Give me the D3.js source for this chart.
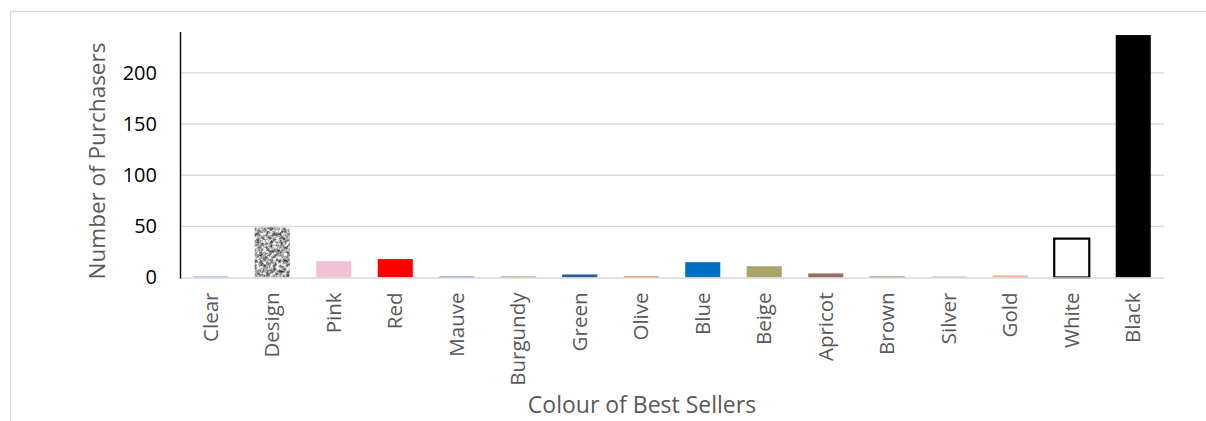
<!DOCTYPE html>
<html>
<head>
<meta charset="utf-8">
<script src="https://cdn.jsdelivr.net/npm/d3@7"></script>
<style>
  html, body { margin: 0; padding: 0; background: #fff; }
  svg { display: block; }
  text { font-family: "Open Sans", sans-serif; }
</style>
</head>
<body>
<svg id="chart" width="1206" height="421"></svg>
<script>
// Best-selling colours and how many purchasers chose each
const categories = ["Clear", "Design", "Pink", "Red", "Mauve", "Burgundy", "Green", "Olive",
  "Blue", "Beige", "Apricot", "Brown", "Silver", "Gold", "White", "Black"];
const purchasers = [1, 49, 16, 18, 1, 1, 3, 1, 15, 11, 4, 1, 1, 2, 38, 237];
const barColours = ["#6fa8dc", "url(#granite)", "#f2c1d6", "#ff0000", "#4a7bd0", "#70ad47", "#2a5f95", "#c55a11",
  "#0070c0", "#aca36a", "#9a6e5e", "#548235", "#9dc3e6", "#f4b183", "#ffffff", "#000000"];
const yTicks = [0, 50, 100, 150, 200];

const svg = d3.select("#chart");
const margin = { left: 180, right: 42, top: 32, bottom: 144 };
const W = 1206, H = 421;

// Granite texture for the "Design" bar
const defs = svg.append("defs");
const f = defs.append("filter").attr("id", "graniteNoise")
  .attr("color-interpolation-filters", "sRGB")
  .attr("x", 0).attr("y", 0).attr("width", 1).attr("height", 1);
f.append("feTurbulence").attr("type", "fractalNoise").attr("baseFrequency", 0.3)
  .attr("numOctaves", 3).attr("seed", 7).attr("result", "noise");
f.append("feColorMatrix").attr("in", "noise").attr("type", "matrix")
  .attr("values", "1.5 0 0 0 -0.1  1.5 0 0 0 -0.09  1.5 0 0 0 -0.07  0 0 0 0 1")
  .attr("result", "grey");
f.append("feColorMatrix").attr("in", "grey").attr("type", "saturate").attr("values", 0).attr("result", "mix");
f.append("feComposite").attr("in", "mix").attr("in2", "SourceGraphic").attr("operator", "in");
const pat = defs.append("pattern").attr("id", "granite").attr("patternUnits", "userSpaceOnUse")
  .attr("width", 80).attr("height", 80);
pat.append("rect").attr("width", 80).attr("height", 80).attr("fill", "#fff").attr("filter", "url(#graniteNoise)");

// Chart frame
svg.append("rect").attr("x", 10.5).attr("y", 11.5).attr("width", 1220).attr("height", 430)
  .attr("fill", "none").attr("stroke", "#d9d9d9").attr("stroke-width", 1.2);

const x = d3.scaleBand().domain(categories)
  .range([margin.left, W - margin.right]).paddingInner(0.43).paddingOuter(0.215);
const y = d3.scaleLinear().domain([0, 240]).range([277.5, margin.top]);

// Horizontal gridlines
svg.append("g").selectAll("line").data(yTicks.filter(d => d > 0)).join("line")
  .attr("x1", margin.left).attr("x2", W - margin.right)
  .attr("y1", d => y(d)).attr("y2", d => y(d))
  .attr("stroke", "#d9d9d9").attr("stroke-width", 1.4);

// Bars
svg.append("g").selectAll("rect").data(categories).join("rect")
  .attr("x", d => x(d))
  .attr("width", x.bandwidth())
  .attr("y", (d, i) => y(purchasers[i]))
  .attr("height", (d, i) => y(0) - y(purchasers[i]))
  .attr("fill", (d, i) => barColours[i])
  .attr("stroke", d => d === "White" ? "#000" : "none")
  .attr("stroke-width", 2.2);

// X axis baseline
svg.append("line").attr("x1", margin.left).attr("x2", W - margin.right)
  .attr("y1", y(0) + 0.5).attr("y2", y(0) + 0.5)
  .attr("stroke", "#d9d9d9").attr("stroke-width", 1.6);

// Y axis
const yAxis = svg.append("g").attr("transform", `translate(${margin.left},0)`)
  .call(d3.axisLeft(y).tickValues(yTicks).tickSize(0).tickPadding(23));
yAxis.select(".domain").attr("stroke", "#000").attr("stroke-width", 1.4)
  .attr("d", `M0.5,${margin.top}V${y(0) + 1}`);
yAxis.selectAll("text").attr("font-size", 20).attr("fill", "#000").attr("font-family", "'Open Sans', sans-serif");

// X axis category labels
const xAxis = svg.append("g").attr("transform", `translate(0,${y(0)})`)
  .call(d3.axisBottom(x).tickSize(0));
xAxis.select(".domain").remove();
xAxis.selectAll("text")
  .attr("font-size", 20.5).attr("fill", "#595959").attr("font-family", "'Open Sans', sans-serif")
  .attr("transform", "rotate(-90)")
  .attr("text-anchor", "end")
  .attr("x", -15).attr("y", 0).attr("dy", "0.35em");

// Axis titles
svg.append("text").attr("transform", "translate(105,161) rotate(-90)")
  .attr("text-anchor", "middle").attr("font-size", 22.5).attr("fill", "#595959")
  .text("Number of Purchasers");
svg.append("text").attr("x", 642).attr("y", 413)
  .attr("text-anchor", "middle").attr("font-size", 23).attr("fill", "#595959")
  .text("Colour of Best Sellers");
</script>
</body>
</html>
